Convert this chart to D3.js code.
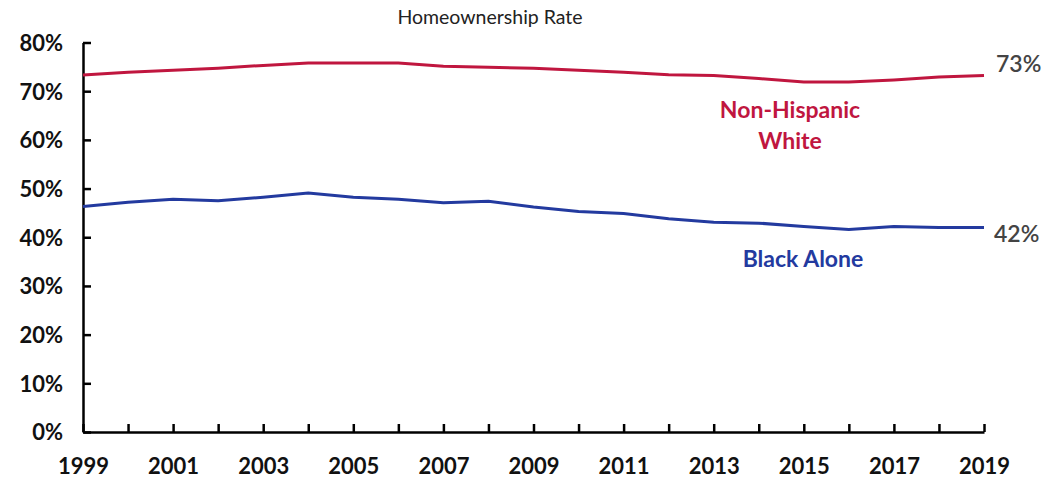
<!DOCTYPE html>
<html><head><meta charset="utf-8">
<script src="https://cdn.jsdelivr.net/npm/d3@7"></script>
<style>body{margin:0;background:#fff}svg{display:block}text{font-family:Lato,"Open Sans",sans-serif}</style>
</head><body><svg id="c" width="1046" height="480"></svg>
<script>
const years = [1999,2000,2001,2002,2003,2004,2005,2006,2007,2008,2009,2010,2011,2012,2013,2014,2015,2016,2017,2018,2019];
const whiteRate = [73.3,73.9,74.3,74.7,75.3,75.8,75.8,75.8,75.1,74.9,74.7,74.3,73.9,73.4,73.2,72.6,71.9,71.9,72.3,72.9,73.2];
const blackRate = [46.3,47.2,47.8,47.5,48.2,49.1,48.2,47.8,47.1,47.4,46.2,45.3,44.9,43.8,43.1,42.9,42.2,41.6,42.2,42.0,42.0];
const yTicks = [0,10,20,30,40,50,60,70,80];
const xLabelYears = [1999,2001,2003,2005,2007,2009,2011,2013,2015,2017,2019];
const title = "Homeownership Rate";

const svg = d3.select("#c");
const x = d3.scaleLinear().domain([1999,2019]).range([83,984]);
const y = d3.scaleLinear().domain([0,80]).range([432,42.5]);
const red = "#C0163F", blue = "#233A9F";

svg.append("text").attr("x",490).attr("y",24).attr("text-anchor","middle")
  .attr("font-size",19.5).attr("fill","#222").text(title);

// y axis
const ya = svg.append("g").attr("transform",`translate(${x(1999)},0)`)
  .call(d3.axisLeft(y).tickValues(yTicks).tickFormat(d=>d+"%").tickSizeInner(-8).tickSizeOuter(0));
ya.select(".domain").attr("stroke","#000").attr("stroke-width",2.5);
ya.selectAll(".tick line").attr("stroke","#000").attr("stroke-width",2.5);
ya.selectAll(".tick text").attr("font-size",22).attr("font-weight","bold").attr("fill","#111").attr("x",-20).attr("dy","0.36em");

// x axis
const xa = svg.append("g").attr("transform",`translate(0,${y(0)})`)
  .call(d3.axisBottom(x).tickValues(years).tickFormat(d=>xLabelYears.includes(d)?String(d):"").tickSizeInner(-8).tickSizeOuter(0));
xa.select(".domain").attr("stroke","#000").attr("stroke-width",2.5);
xa.selectAll(".tick line").attr("stroke","#000").attr("stroke-width",2.5);
xa.selectAll(".tick text").attr("font-size",22).attr("font-weight","bold").attr("fill","#111").attr("y",26).attr("dy","0.71em");

const line = d3.line().x((d,i)=>x(years[i])).y(d=>y(d));
svg.append("path").datum(whiteRate).attr("d",line).attr("fill","none").attr("stroke",red).attr("stroke-width",3);
svg.append("path").datum(blackRate).attr("d",line).attr("fill","none").attr("stroke",blue).attr("stroke-width",3);

const last = years.length-1;
svg.append("text").attr("x",x(2019)+12).attr("y",y(whiteRate[last])-4)
  .attr("font-size",23).attr("font-weight",600).attr("fill","#444").text(Math.round(whiteRate[last])+"%");
svg.append("text").attr("x",x(2019)+10).attr("y",y(blackRate[last])+14)
  .attr("font-size",23).attr("font-weight",600).attr("fill","#444").text(Math.round(blackRate[last])+"%");

svg.append("text").attr("x",790).attr("y",118).attr("text-anchor","middle").attr("font-size",23).attr("font-weight","bold").attr("fill",red).text("Non-Hispanic");
svg.append("text").attr("x",790).attr("y",149).attr("text-anchor","middle").attr("font-size",23).attr("font-weight","bold").attr("fill",red).text("White");
svg.append("text").attr("x",803).attr("y",267).attr("text-anchor","middle").attr("font-size",23).attr("font-weight","bold").attr("fill",blue).text("Black Alone");
</script></body></html>
